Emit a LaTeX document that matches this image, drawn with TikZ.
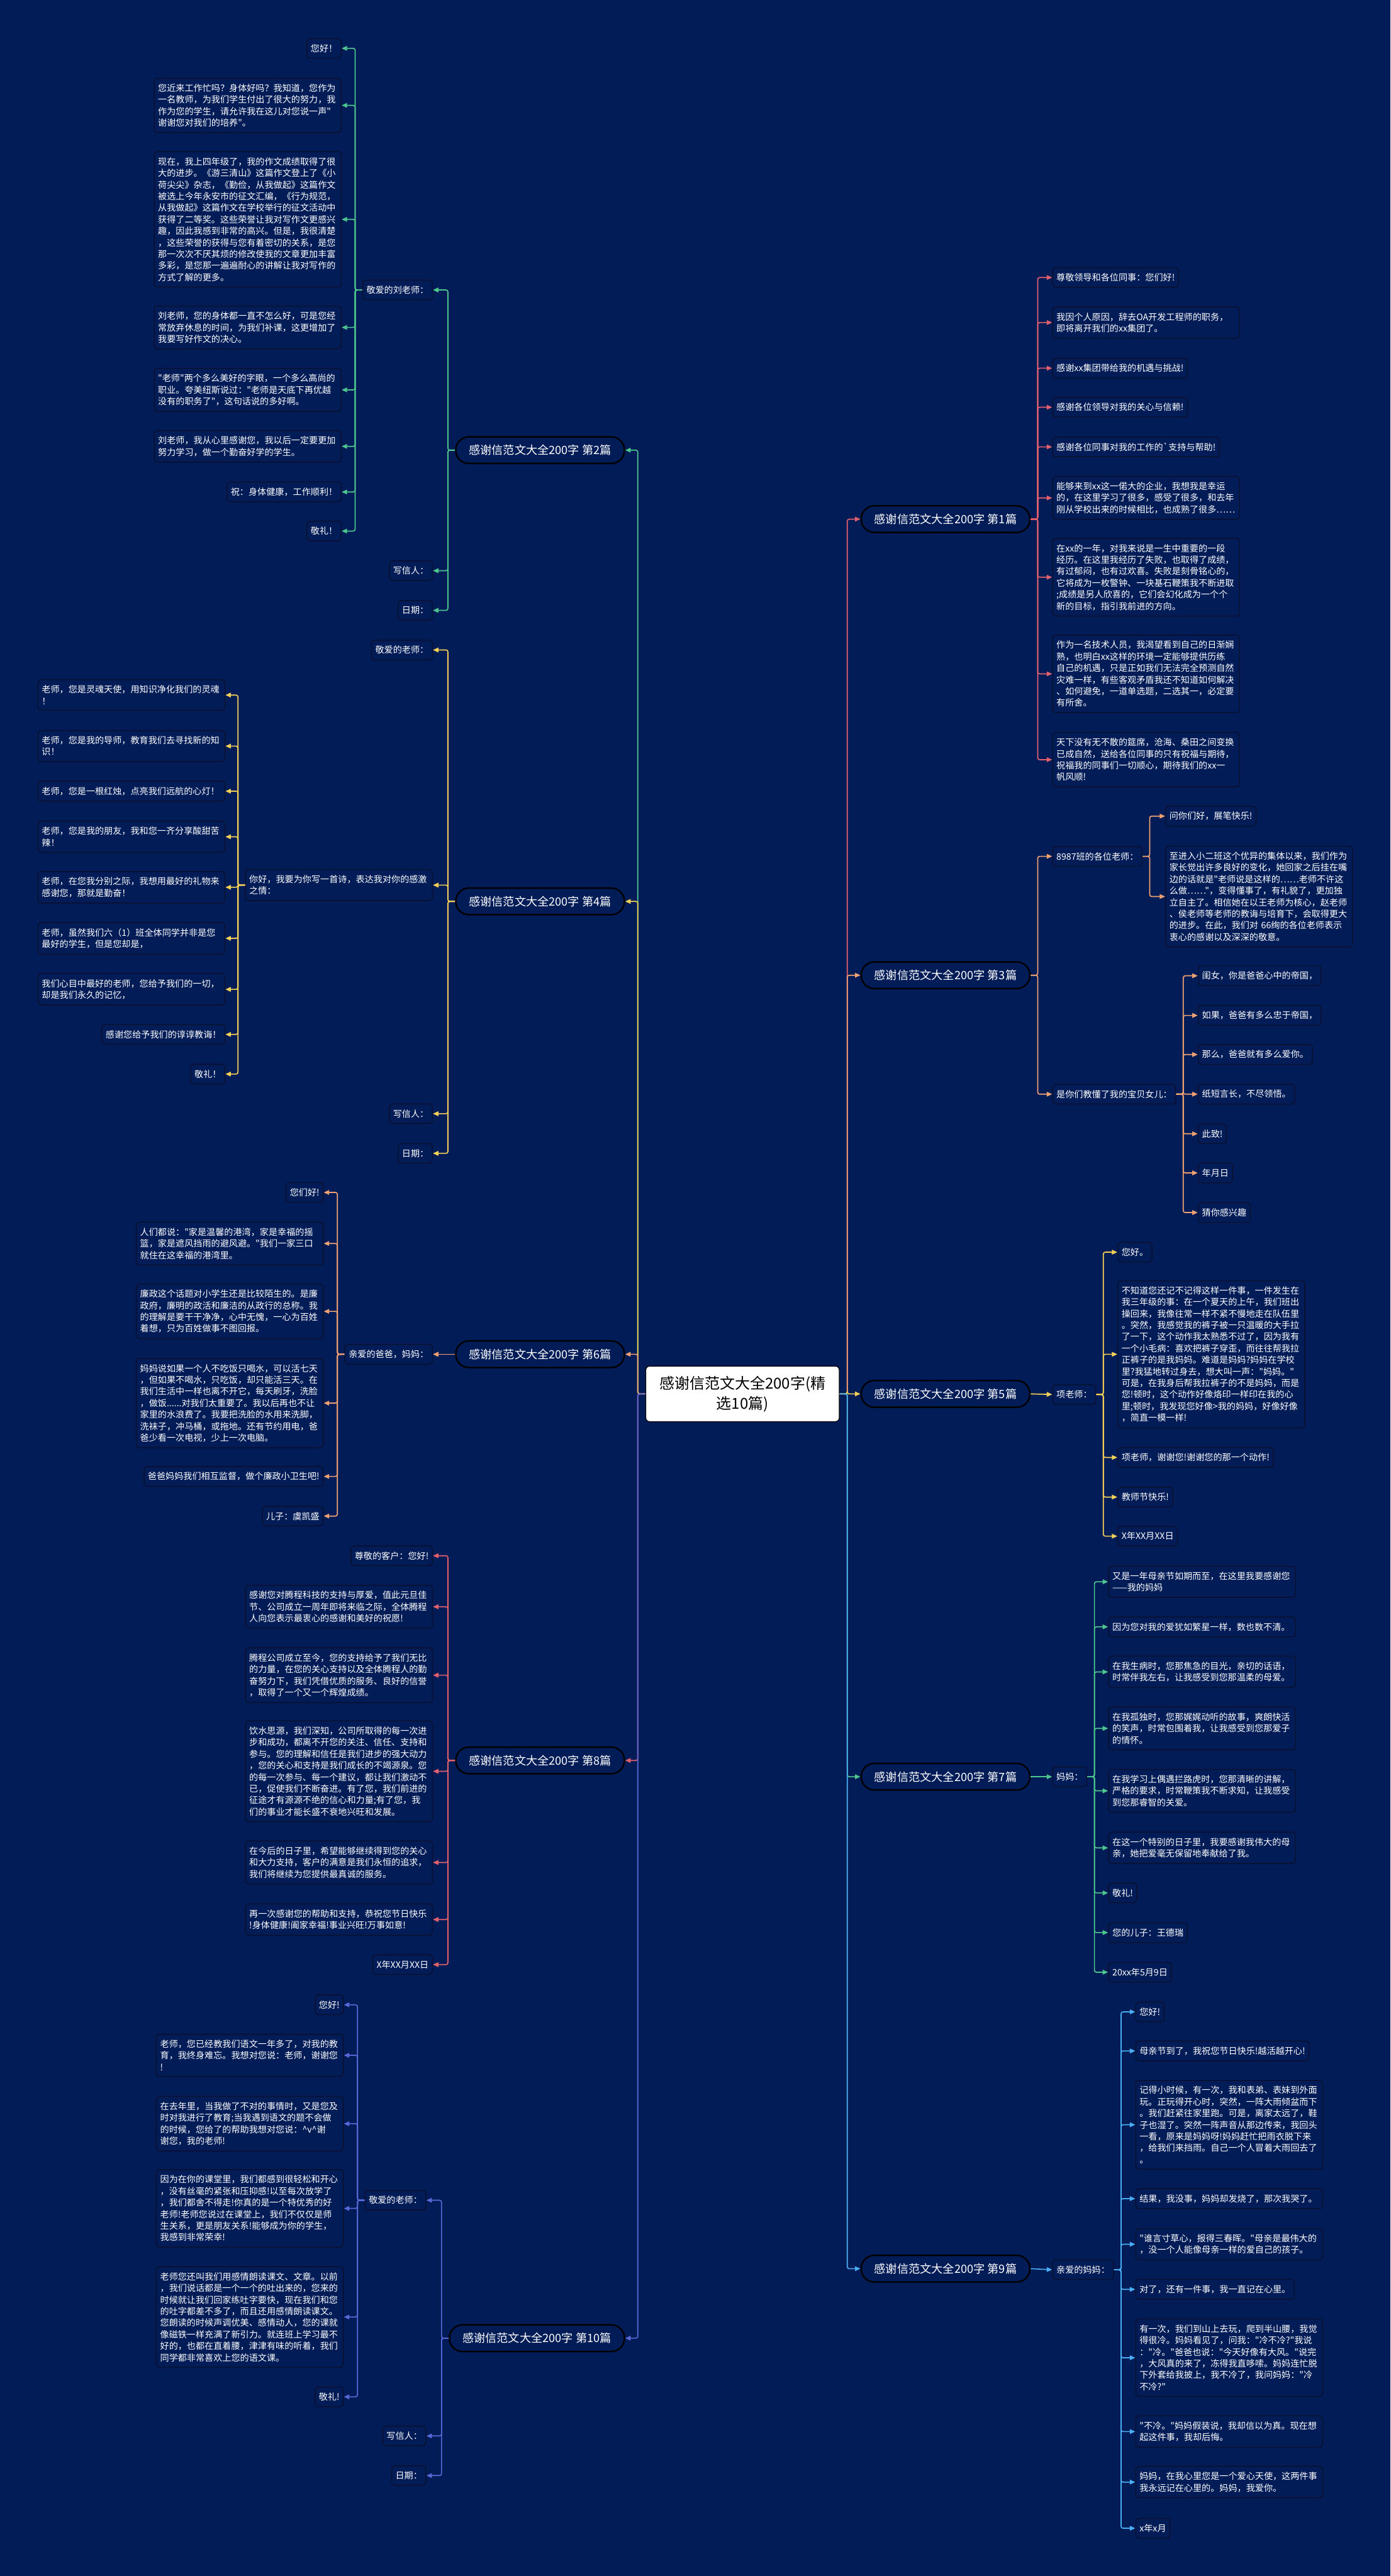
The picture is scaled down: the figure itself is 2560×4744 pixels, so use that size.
\documentclass[tikz,border=0pt]{standalone}
\usepackage{fontspec}
\usepackage{xcolor}
\usepackage{tikz}
\usetikzlibrary{arrows.meta}
\newfontfamily\cjk{Noto Sans CJK SC}
\newcommand\leaffont{\cjk\fontsize{4.65pt}{6.06pt}\selectfont}
\newcommand\pianfont{\cjk\fontsize{6pt}{7pt}\selectfont}
\newcommand\topicfont{\cjk\fontsize{7.9pt}{10.4pt}\selectfont}
\definecolor{bgnavy}{HTML}{021C58}
\definecolor{boxline}{HTML}{0A1030}
\definecolor{cgreen}{HTML}{4DC78E}
\definecolor{cyellow}{HTML}{F5D255}
\definecolor{corange}{HTML}{F2A271}
\definecolor{cred}{HTML}{E4606D}
\definecolor{cviolet}{HTML}{5B69D8}
\definecolor{csky}{HTML}{4AAEF2}
\tikzset{
  leaf/.style={draw=boxline,fill=bgnavy,text=white,rounded corners=1.6pt,line width=0.5pt,inner xsep=0.07cm,inner ysep=0.105cm,font=\leaffont},
  para/.style={leaf,text width=3.3cm,align=left},
  pian/.style={draw=black,fill=bgnavy,text=white,line width=0.8pt,rounded corners=6.9pt,inner xsep=0.24cm,inner ysep=0.12cm,minimum height=0.49cm,font=\pianfont},
  topic/.style={draw=black,fill=white,text=black,rounded corners=2pt,align=center,minimum width=3.56cm,minimum height=1.02cm,font=\topicfont},
  lt/.style={anchor=east},
  rt/.style={anchor=west},
  conn/.style={-{Triangle[length=1mm,width=0.85mm]},line width=0.55pt,rounded corners=1pt},
}
\begin{document}
\begin{tikzpicture}[x=0.01cm,y=-0.01cm]
  \fill[bgnavy] (0,0) rectangle (2560,4744);
  \node[topic] (root) at (1367,2567) {感谢信范文大全200字(精\\选10篇)};
  % left branches
  \node[pian,lt] (p2) at (1151,829) {感谢信范文大全200字 第2篇};
  \node[pian,lt] (p4) at (1151,1660) {感谢信范文大全200字 第4篇};
  \node[pian,lt] (p6) at (1151,2494) {感谢信范文大全200字 第6篇};
  \node[pian,lt] (p8) at (1151,3242) {感谢信范文大全200字 第8篇};
  \node[pian,lt] (p10) at (1151,4306) {感谢信范文大全200字 第10篇};
  % right branches
  \node[pian,rt] (p1) at (1584,956) {感谢信范文大全200字 第1篇};
  \node[pian,rt] (p3) at (1584,1796) {感谢信范文大全200字 第3篇};
  \node[pian,rt] (p5) at (1584,2567) {感谢信范文大全200字 第5篇};
  \node[pian,rt] (p7) at (1584,3272) {感谢信范文大全200字 第7篇};
  \node[pian,rt] (p9) at (1584,4178) {感谢信范文大全200字 第9篇};

  % 第2篇
  \node[leaf,lt] (p2a) at (797,534) {敬爱的刘老师：};
  \node[leaf,lt] (p2b) at (797,1051) {写信人：};
  \node[leaf,lt] (p2c) at (797,1124) {日期：};
  \node[leaf,lt] (p2a1) at (629,89) {您好！};
  \node[para,lt] (p2a2) at (629,194) {您近来工作忙吗？身体好吗？我知道，您作为\\一名教师，为我们学生付出了很大的努力，我\\作为您的学生，请允许我在这儿对您说一声"\\谢谢您对我们的培养"。};
  \node[para,lt] (p2a3) at (629,404) {现在，我上四年级了，我的作文成绩取得了很\\大的进步。《游三清山》这篇作文登上了《小\\荷尖尖》杂志，《勤俭，从我做起》这篇作文\\被选上今年永安市的征文汇编，《行为规范，\\从我做起》这篇作文在学校举行的征文活动中\\获得了二等奖。这些荣誉让我对写作文更感兴\\趣，因此我感到非常的高兴。但是，我很清楚\\，这些荣誉的获得与您有着密切的关系，是您\\那一次次不厌其烦的修改使我的文章更加丰富\\多彩，是您那一遍遍耐心的讲解让我对写作的\\方式了解的更多。};
  \node[para,lt] (p2a4) at (629,603) {刘老师，您的身体都一直不怎么好，可是您经\\常放弃休息的时间，为我们补课，这更增加了\\我要写好作文的决心。};
  \node[para,lt] (p2a5) at (629,718) {"老师"两个多么美好的字眼，一个多么高尚的\\职业。夸美纽斯说过："老师是天底下再优越\\没有的职务了"，这句话说的多好啊。};
  \node[para,lt] (p2a6) at (629,822) {刘老师，我从心里感谢您，我以后一定要更加\\努力学习，做一个勤奋好学的学生。};
  \node[leaf,lt] (p2a7) at (629,906) {祝：身体健康，工作顺利！};
  \node[leaf,lt] (p2a8) at (629,978) {敬礼！};

  % 第4篇
  \node[leaf,lt] (p4a) at (797,1197) {敬爱的老师：};
  \node[para,lt] (p4b) at (797,1630) {你好，我要为你写一首诗，表达我对你的感激\\之情：};
  \node[leaf,lt] (p4c) at (797,2051) {写信人：};
  \node[leaf,lt] (p4d) at (797,2124) {日期：};
  \node[para,lt] (p4b1) at (415,1280) {老师，您是灵魂天使，用知识净化我们的灵魂\\！};
  \node[para,lt] (p4b2) at (415,1374) {老师，您是我的导师，教育我们去寻找新的知\\识！};
  \node[para,lt] (p4b3) at (415,1457) {老师，您是一根红烛，点亮我们远航的心灯！};
  \node[para,lt] (p4b4) at (415,1541) {老师，您是我的朋友，我和您一齐分享酸甜苦\\辣！};
  \node[para,lt] (p4b5) at (415,1634) {老师，在您我分别之际，我想用最好的礼物来\\感谢您，那就是勤奋！};
  \node[para,lt] (p4b6) at (415,1728) {老师，虽然我们六（1）班全体同学并非是您\\最好的学生，但是您却是，};
  \node[para,lt] (p4b7) at (415,1822) {我们心目中最好的老师，您给予我们的一切，\\却是我们永久的记忆，};
  \node[leaf,lt] (p4b8) at (415,1905) {感谢您给予我们的谆谆教诲！};
  \node[leaf,lt] (p4b9) at (415,1978) {敬礼！};

  % 第6篇
  \node[leaf,lt] (p6a) at (797,2494) {亲爱的爸爸，妈妈：};
  \node[leaf,lt] (p6a1) at (596,2196) {您们好!};
  \node[para,lt] (p6a2) at (596,2290) {人们都说："家是温馨的港湾，家是幸福的摇\\篮，家是遮风挡雨的避风避。"我们一家三口\\就住在这幸福的港湾里。};
  \node[para,lt] (p6a3) at (596,2415) {廉政这个话题对小学生还是比较陌生的。是廉\\政府，廉明的政活和廉洁的从政行的总称。我\\的理解是要干干净净，心中无愧，一心为百姓\\着想，只为百姓做事不图回报。};
  \node[para,lt] (p6a4) at (596,2584) {妈妈说如果一个人不吃饭只喝水，可以活七天\\，但如果不喝水，只吃饭，却只能活三天。在\\我们生活中一样也离不开它，每天刷牙，洗脸\\，做饭......对我们太重要了。我以后再也不让\\家里的水浪费了。我要把洗脸的水用来洗脚，\\洗袜子，冲马桶，或拖地。还有节约用电，爸\\爸少看一次电视，少上一次电脑。};
  \node[leaf,lt] (p6a5) at (596,2719) {爸爸妈妈我们相互监督，做个廉政小卫生吧!};
  \node[leaf,lt] (p6a6) at (596,2792) {儿子：虞凯盛};

  % 第8篇
  \node[leaf,lt] (p8a1) at (797,2865) {尊敬的客户：您好!};
  \node[para,lt] (p8a2) at (797,2959) {感谢您对腾程科技的支持与厚爱，值此元旦佳\\节、公司成立一周年即将来临之际，全体腾程\\人向您表示最衷心的感谢和美好的祝愿!};
  \node[para,lt] (p8a3) at (797,3085) {腾程公司成立至今，您的支持给予了我们无比\\的力量，在您的关心支持以及全体腾程人的勤\\奋努力下，我们凭借优质的服务、良好的信誉\\，取得了一个又一个辉煌成绩。};
  \node[para,lt] (p8a4) at (797,3262) {饮水思源，我们深知，公司所取得的每一次进\\步和成功，都离不开您的关注、信任、支持和\\参与。您的理解和信任是我们进步的强大动力\\，您的关心和支持是我们成长的不竭源泉。您\\的每一次参与、每一个建议，都让我们激动不\\已，促使我们不断奋进。有了您，我们前进的\\征途才有源源不绝的信心和力量;有了您，我\\们的事业才能长盛不衰地兴旺和发展。};
  \node[para,lt] (p8a5) at (797,3430) {在今后的日子里，希望能够继续得到您的关心\\和大力支持，客户的满意是我们永恒的追求，\\我们将继续为您提供最真诚的服务。};
  \node[para,lt] (p8a6) at (797,3535) {再一次感谢您的帮助和支持，恭祝您节日快乐\\!身体健康!阖家幸福!事业兴旺!万事如意!};
  \node[leaf,lt] (p8a7) at (797,3618) {X年XX月XX日};

  % 第10篇
  \node[leaf,lt] (p10a) at (785,4052) {敬爱的老师：};
  \node[leaf,lt] (p10b) at (785,4486) {写信人：};
  \node[leaf,lt] (p10c) at (785,4559) {日期：};
  \node[leaf,lt] (p10a1) at (633,3692) {您好!};
  \node[para,lt] (p10a2) at (633,3785) {老师，您已经教我们语文一年多了，对我的教\\育，我终身难忘。我想对您说：老师，谢谢您\\!};
  \node[para,lt] (p10a3) at (633,3911) {在去年里，当我做了不对的事情时，又是您及\\时对我进行了教育;当我遇到语文的题不会做\\的时候，您给了的帮助我想对您说：\textasciicircum{}v\textasciicircum{}谢\\谢您，我的老师!};
  \node[para,lt] (p10a4) at (633,4067) {因为在你的课堂里，我们都感到很轻松和开心\\，没有丝毫的紧张和压抑感!以至每次放学了\\，我们都舍不得走!你真的是一个特优秀的好\\老师!老师您说过在课堂上，我们不仅仅是师\\生关系，更是朋友关系!能够成为你的学生，\\我感到非常荣幸!};
  \node[para,lt] (p10a5) at (633,4267) {老师您还叫我们用感情朗读课文、文章。以前\\，我们说话都是一个一个的吐出来的，您来的\\时候就让我们回家练吐字要快，现在我们和您\\的吐字都差不多了，而且还用感情朗读课文。\\您朗读的时候声调优美、感情动人，您的课就\\像磁铁一样充满了新引力。就连班上学习最不\\好的，也都在直着腰，津津有味的听着，我们\\同学都非常喜欢上您的语文课。};
  \node[leaf,lt] (p10a6) at (633,4414) {敬礼!};

  % 第1篇
  \node[leaf,rt] (p1a1) at (1937,511) {尊敬领导和各位同事：您们好!};
  \node[para,rt] (p1a2) at (1937,594) {我因个人原因，辞去OA开发工程师的职务，\\即将离开我们的xx集团了。};
  \node[leaf,rt] (p1a3) at (1937,678) {感谢xx集团带给我的机遇与挑战!};
  \node[leaf,rt] (p1a4) at (1937,750) {感谢各位领导对我的关心与信赖!};
  \node[leaf,rt] (p1a5) at (1937,823) {感谢各位同事对我的工作的\symbol{96}支持与帮助!};
  \node[para,rt] (p1a6) at (1937,917) {能够来到xx这一偌大的企业，我想我是幸运\\的，在这里学习了很多，感受了很多，和去年\\刚从学校出来的时候相比，也成熟了很多……};
  \node[para,rt] (p1a7) at (1937,1063) {在xx的一年，对我来说是一生中重要的一段\\经历。在这里我经历了失败，也取得了成绩，\\有过郁闷，也有过欢喜。失败是刻骨铭心的，\\它将成为一枚警钟、一块基石鞭策我不断进取\\;成绩是另人欣喜的，它们会幻化成为一个个\\新的目标，指引我前进的方向。};
  \node[para,rt] (p1a8) at (1937,1241) {作为一名技术人员，我渴望看到自己的日渐娴\\熟，也明白xx这样的环境一定能够提供历练\\自己的机遇，只是正如我们无法完全预测自然\\灾难一样，有些客观矛盾我还不知道如何解决\\、如何避免，一道单选题，二选其一，必定要\\有所舍。};
  \node[para,rt] (p1a9) at (1937,1399) {天下没有无不散的筵席，沧海、桑田之间变换\\已成自然，送给各位同事的只有祝福与期待，\\祝福我的同事们一切顺心，期待我们的xx一\\帆风顺!};

  % 第3篇
  \node[leaf,rt] (p3a) at (1937,1577) {8987班的各位老师：};
  \node[leaf,rt] (p3b) at (1937,2015) {是你们教懂了我的宝贝女儿：};
  \node[leaf,rt] (p3a1) at (2145,1503) {问你们好，展笔快乐!};
  \node[para,rt] (p3a2) at (2145,1651) {至进入小二班这个优异的集体以来，我们作为\\家长觉出许多良好的变化，她回家之后挂在嘴\\边的话就是"老师说是这样的……老师不许这\\么做……"，变得懂事了，有礼貌了，更加独\\立自主了。相信她在以王老师为核心，赵老师\\、侯老师等老师的教诲与培育下，会取得更大\\的进步。在此，我们对~66绚的各位老师表示\\衷心的感谢以及深深的敬意。};
  \node[leaf,rt] (p3b1) at (2205,1797) {闺女，你是爸爸心中的帝国，};
  \node[leaf,rt] (p3b2) at (2205,1870) {如果，爸爸有多么忠于帝国，};
  \node[leaf,rt] (p3b3) at (2205,1942) {那么，爸爸就有多么爱你。};
  \node[leaf,rt] (p3b4) at (2205,2015) {纸短言长，不尽领悟。};
  \node[leaf,rt] (p3b5) at (2205,2088) {此致!};
  \node[leaf,rt] (p3b6) at (2205,2160) {年月日};
  \node[leaf,rt] (p3b7) at (2205,2233) {猜你感兴趣};

  % 第5篇
  \node[leaf,rt] (p5a) at (1937,2568) {项老师：};
  \node[leaf,rt] (p5a1) at (2057,2306) {您好。};
  \node[para,rt] (p5a2) at (2057,2494) {不知道您还记不记得这样一件事，一件发生在\\我三年级的事：在一个夏天的上午，我们班出\\操回来，我像往常一样不紧不慢地走在队伍里\\。突然，我感觉我的裤子被一只温暖的大手拉\\了一下，这个动作我太熟悉不过了，因为我有\\一个小毛病：喜欢把裤子穿歪，而往往帮我拉\\正裤子的是我妈妈。难道是妈妈?妈妈在学校\\里?我猛地转过身去，想大叫一声："妈妈。"\\可是，在我身后帮我拉裤子的不是妈妈，而是\\您!顿时，这个动作好像烙印一样印在我的心\\里;顿时，我发现您好像>我的妈妈，好像好像\\，简直一模一样!};
  \node[leaf,rt] (p5a3) at (2057,2684) {项老师，谢谢您!谢谢您的那一个动作!};
  \node[leaf,rt] (p5a4) at (2057,2757) {教师节快乐!};
  \node[leaf,rt] (p5a5) at (2057,2829) {X年XX月XX日};

  % 第7篇
  \node[leaf,rt] (p7a) at (1937,3272) {妈妈：};
  \node[para,rt] (p7a1) at (2040,2913) {又是一年母亲节如期而至，在这里我要感谢您\\——我的妈妈};
  \node[para,rt] (p7a2) at (2040,2996) {因为您对我的爱犹如繁星一样，数也数不清。};
  \node[para,rt] (p7a3) at (2040,3079) {在我生病时，您那焦急的目光，亲切的话语，\\时常伴我左右，让我感受到您那温柔的母爱。};
  \node[para,rt] (p7a4) at (2040,3183) {在我孤独时，您那娓娓动听的故事，爽朗快活\\的笑声，时常包围着我，让我感受到您那爱子\\的情怀。};
  \node[para,rt] (p7a5) at (2040,3298) {在我学习上偶遇拦路虎时，您那清晰的讲解，\\严格的要求，时常鞭策我不断求知，让我感受\\到您那睿智的关爱。};
  \node[para,rt] (p7a6) at (2040,3403) {在这一个特别的日子里，我要感谢我伟大的母\\亲，她把爱毫无保留地奉献给了我。};
  \node[leaf,rt] (p7a7) at (2040,3486) {敬礼!};
  \node[leaf,rt] (p7a8) at (2040,3559) {您的儿子：王德瑞};
  \node[leaf,rt] (p7a9) at (2040,3632) {20xx年5月9日};

  % 第9篇
  \node[leaf,rt] (p9a) at (1937,4180) {亲爱的妈妈：};
  \node[leaf,rt] (p9a1) at (2090,3705) {您好!};
  \node[leaf,rt] (p9a2) at (2090,3777) {母亲节到了，我祝您节日快乐!越活越开心!};
  \node[para,rt] (p9a3) at (2090,3913) {记得小时候，有一次，我和表弟、表妹到外面\\玩。正玩得开心时，突然，一阵大雨倾盆而下\\。我们赶紧往家里跑。可是，离家太远了，鞋\\子也湿了。突然一阵声音从那边传来，我回头\\一看，原来是妈妈呀!妈妈赶忙把雨衣脱下来\\，给我们来挡雨。自己一个人冒着大雨回去了\\。};
  \node[para,rt] (p9a4) at (2090,4049) {结果，我没事，妈妈却发烧了，那次我哭了。};
  \node[para,rt] (p9a5) at (2090,4133) {"谁言寸草心，报得三春晖。"母亲是最伟大的\\，没一个人能像母亲一样的爱自己的孩子。};
  \node[leaf,rt] (p9a6) at (2090,4216) {对了，还有一件事，我一直记在心里。};
  \node[para,rt] (p9a7) at (2090,4342) {有一次，我们到山上去玩，爬到半山腰，我觉\\得很冷。妈妈看见了，问我："冷不冷?"我说\\："冷。"爸爸也说："今天好像有大风。"说完\\，大风真的来了，冻得我直哆嗦。妈妈连忙脱\\下外套给我披上，我不冷了，我问妈妈："冷\\不冷?"};
  \node[para,rt] (p9a8) at (2090,4478) {"不冷。"妈妈假装说，我却信以为真。现在想\\起这件事，我却后悔。};
  \node[para,rt] (p9a9) at (2090,4571) {妈妈，在我心里您是一个爱心天使，这两件事\\我永远记在心里的。妈妈，我爱你。};
  \node[leaf,rt] (p9a10) at (2090,4656) {x年x月};

  % connectors
  \foreach \i/\c in {2/cgreen,4/cyellow,6/corange,8/cred,10/cviolet} \draw[conn,draw=\c] (root.west) -- ++(-14,0) |- (p\i.east);
  \foreach \i/\c in {1/cred,3/corange,5/cyellow,7/cgreen,9/csky} \draw[conn,draw=\c] (root.east) -- ++(14,0) |- (p\i.west);
  \foreach \k in {a,b,c} \draw[conn,draw=cgreen] (p2.west) -- ++(-13,0) |- (p2\k.east);
  \foreach \k in {1,...,8} \draw[conn,draw=cgreen] (p2a.west) -- ++(-13,0) |- (p2a\k.east);
  \foreach \k in {a,b,c,d} \draw[conn,draw=cyellow] (p4.west) -- ++(-13,0) |- (p4\k.east);
  \foreach \k in {1,...,9} \draw[conn,draw=cyellow] (p4b.west) -- ++(-13,0) |- (p4b\k.east);
  \draw[conn,draw=corange] (p6.west) -- (p6a.east);
  \foreach \k in {1,...,6} \draw[conn,draw=corange] (p6a.west) -- ++(-13,0) |- (p6a\k.east);
  \foreach \k in {1,...,7} \draw[conn,draw=cred] (p8.west) -- ++(-13,0) |- (p8a\k.east);
  \foreach \k in {a,b,c} \draw[conn,draw=cviolet] (p10.west) -- ++(-13,0) |- (p10\k.east);
  \foreach \k in {1,...,6} \draw[conn,draw=cviolet] (p10a.west) -- ++(-13,0) |- (p10a\k.east);
  \foreach \k in {1,...,9} \draw[conn,draw=cred] (p1.east) -- ++(13,0) |- (p1a\k.west);
  \foreach \k in {a,b} \draw[conn,draw=corange] (p3.east) -- ++(13,0) |- (p3\k.west);
  \foreach \k in {1,2} \draw[conn,draw=corange] (p3a.east) -- ++(13,0) |- (p3a\k.west);
  \foreach \k in {1,...,7} \draw[conn,draw=corange] (p3b.east) -- ++(13,0) |- (p3b\k.west);
  \draw[conn,draw=cyellow] (p5.east) -- (p5a.west);
  \foreach \k in {1,...,5} \draw[conn,draw=cyellow] (p5a.east) -- ++(13,0) |- (p5a\k.west);
  \draw[conn,draw=cgreen] (p7.east) -- (p7a.west);
  \foreach \k in {1,...,9} \draw[conn,draw=cgreen] (p7a.east) -- ++(13,0) |- (p7a\k.west);
  \draw[conn,draw=csky] (p9.east) -- (p9a.west);
  \foreach \k in {1,...,10} \draw[conn,draw=csky] (p9a.east) -- ++(13,0) |- (p9a\k.west);
\end{tikzpicture}
\end{document}
